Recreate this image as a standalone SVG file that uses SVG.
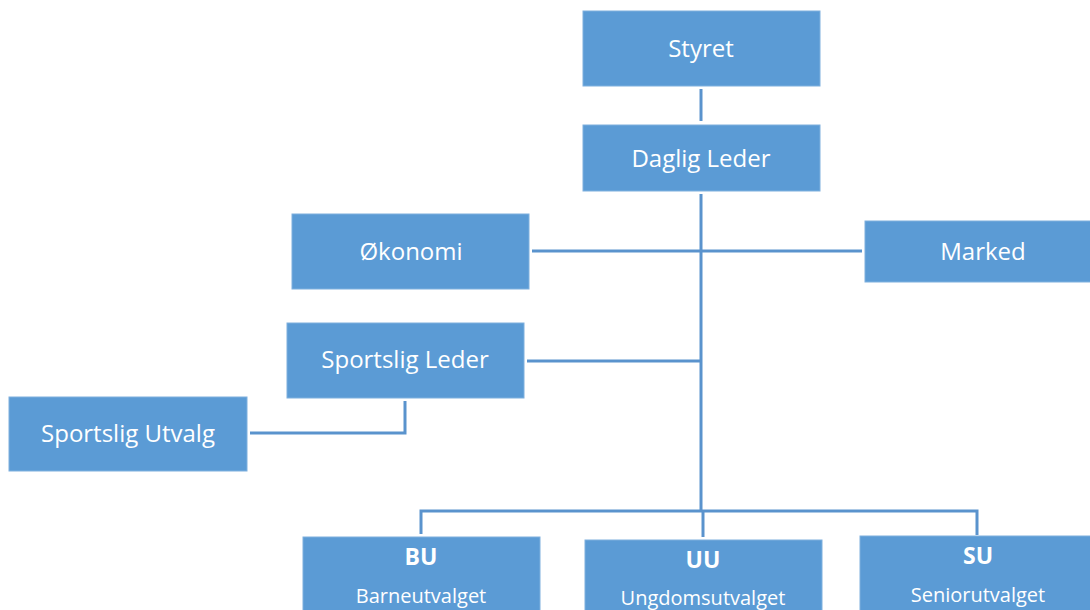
<svg xmlns="http://www.w3.org/2000/svg" width="1090" height="610" viewBox="0 0 1090 610">
<style>
.box{fill:#5B9BD5;stroke:#7FB0DE;stroke-width:1}
.t{font-family:"Open Sans","Liberation Sans",sans-serif;font-size:24px;fill:#FFFFFF;text-anchor:middle}
.b{font-family:"Open Sans","Liberation Sans",sans-serif;font-size:23px;font-weight:bold;fill:#FFFFFF;text-anchor:middle}
.s{font-family:"Open Sans","Liberation Sans",sans-serif;font-size:20px;fill:#FFFFFF;text-anchor:middle}
.c{fill:none;stroke:#5A93CD;stroke-width:3}
</style>
<rect width="1090" height="610" fill="#FFFFFF"/>
<g id="connectors">
<path class="c" d="M701 89V121"/>
<path class="c" d="M701 194V511"/>
<path class="c" d="M532 251H862"/>
<path class="c" d="M527 361H701"/>
<path class="c" d="M405 401V433H250"/>
<path class="c" d="M421 534V511H977V535"/>
<path class="c" d="M703 511V537"/>
</g>
<g id="styret"><rect class="box" x="583" y="11" width="237" height="75"/><text class="t" x="701" y="57">Styret</text></g>
<g id="daglig-leder"><rect class="box" x="583" y="125" width="237" height="66"/><text class="t" x="701" y="167">Daglig Leder</text></g>
<g id="okonomi"><rect class="box" x="292" y="214" width="237" height="75"/><text class="t" x="411" y="260">Økonomi</text></g>
<g id="marked"><rect class="box" x="865" y="221" width="236" height="61"/><text class="t" x="983" y="260">Marked</text></g>
<g id="sportslig-leder"><rect class="box" x="287" y="323" width="237" height="75"/><text class="t" x="405" y="368">Sportslig Leder</text></g>
<g id="sportslig-utvalg"><rect class="box" x="9" y="397" width="238" height="74"/><text class="t" x="128" y="442">Sportslig Utvalg</text></g>
<g id="bu"><rect class="box" x="303" y="537" width="237" height="80"/><text class="b" x="421" y="565">BU</text><text class="s" x="421" y="603">Barneutvalget</text></g>
<g id="uu"><rect class="box" x="585" y="540" width="237" height="80"/><text class="b" x="703" y="568">UU</text><text class="s" x="703" y="605">Ungdomsutvalget</text></g>
<g id="su"><rect class="box" x="860" y="536" width="237" height="80"/><text class="b" x="978" y="564">SU</text><text class="s" x="978" y="602">Seniorutvalget</text></g>
</svg>
